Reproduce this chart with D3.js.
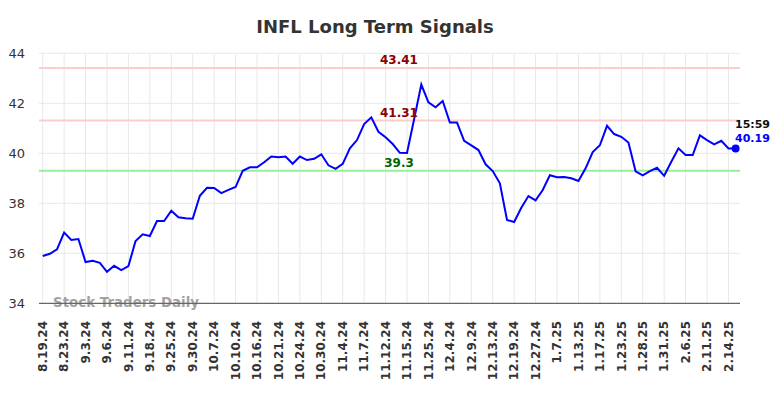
<!DOCTYPE html>
<html><head><meta charset="utf-8">
<script src="https://cdn.jsdelivr.net/npm/d3@7/dist/d3.min.js"></script>
<style>body{margin:0;background:#fff;} svg{display:block;font-family:"DejaVu Sans",sans-serif;}</style>
</head><body><svg id="c" width="784" height="398"></svg>
<script>
const title = "INFL Long Term Signals";
const tickLabels = ["8.19.24","8.23.24","9.3.24","9.6.24","9.11.24","9.18.24","9.25.24","9.30.24","10.7.24","10.10.24","10.16.24","10.21.24","10.24.24","10.30.24","11.4.24","11.7.24","11.12.24","11.15.24","11.25.24","12.4.24","12.9.24","12.13.24","12.19.24","12.27.24","1.7.25","1.13.25","1.17.25","1.23.25","1.28.25","1.31.25","2.6.25","2.11.25","2.14.25"];
const values = [35.89,35.98,36.16,36.83,36.53,36.57,35.65,35.70,35.62,35.26,35.50,35.33,35.49,36.49,36.76,36.69,37.29,37.29,37.70,37.44,37.40,37.38,38.30,38.62,38.61,38.41,38.54,38.65,39.30,39.44,39.44,39.64,39.87,39.84,39.87,39.58,39.87,39.73,39.78,39.96,39.52,39.38,39.58,40.20,40.53,41.17,41.44,40.86,40.64,40.37,40.02,40.01,41.37,42.75,42.04,41.84,42.09,41.23,41.23,40.50,40.32,40.13,39.56,39.29,38.80,37.33,37.25,37.82,38.29,38.12,38.53,39.12,39.04,39.05,39.00,38.89,39.40,40.05,40.32,41.10,40.77,40.66,40.43,39.28,39.12,39.29,39.42,39.10,39.66,40.20,39.93,39.93,40.72,40.53,40.36,40.50,40.19,40.19];
const yTicks = [34,36,38,40,42,44];
const refLevels = [43.41, 41.31, 39.3];
const refColors = ["#ffcccc","#ffcccc","#99ee99"];
const refTextColors = ["#8b0000","#8b0000","#006400"];
const lastTime = "15:59";
const tickEvery = 3;

const svg = d3.select("#c");
const x = d3.scaleLinear().domain([0, values.length-1]).range([42.7, 735.6]);
const y = d3.scaleLinear().domain([34,44]).range([303.3, 53.3]);
const left = 39, right = 740;

// horizontal grid
svg.append("g").selectAll("line").data(yTicks.filter(d=>d!==34)).join("line")
  .attr("x1", left).attr("x2", right).attr("y1", d=>y(d)).attr("y2", d=>y(d))
  .attr("stroke", "#e8e8e8").attr("stroke-width", 1);
// vertical grid
const tickIdx = tickLabels.map((_,i)=>i*tickEvery);
svg.append("g").selectAll("line").data(tickIdx).join("line")
  .attr("x1", d=>x(d)).attr("x2", d=>x(d)).attr("y1", y(44)).attr("y2", y(34))
  .attr("stroke", "#e8e8e8").attr("stroke-width", 1);

// y labels
svg.append("g").selectAll("text").data(yTicks).join("text")
  .attr("x", 25).attr("y", d=>y(d)).attr("dy","0.35em").attr("text-anchor","end")
  .attr("font-size", 13).attr("fill", "#333").text(d=>d);

// x labels
svg.append("g").selectAll("text").data(tickLabels).join("text")
  .attr("transform", (d,i)=>`translate(${x(i*tickEvery)},321) rotate(-90)`)
  .attr("text-anchor","end").attr("dy","0.35em")
  .attr("font-size", 12).attr("font-weight","bold").attr("fill","#333").text(d=>d);

// watermark
svg.append("text").attr("x", 53).attr("y", 307).attr("font-size", 13.4).attr("font-weight","bold")
  .attr("fill", "#999").attr("opacity", 0.9).text("Stock Traders Daily");

// axis line
svg.append("line").attr("x1", left).attr("x2", right).attr("y1", y(34)).attr("y2", y(34))
  .attr("stroke", "#666").attr("stroke-width", 1.2);

// ref lines
svg.append("g").selectAll("line").data(refLevels).join("line")
  .attr("x1", left).attr("x2", right).attr("y1", d=>y(d)).attr("y2", d=>y(d))
  .attr("stroke", (d,i)=>refColors[i]).attr("stroke-width", 2);

// data line
svg.append("path").datum(values)
  .attr("d", d3.line().x((d,i)=>x(i)).y(d=>y(d)))
  .attr("fill","none").attr("stroke","#0000ff").attr("stroke-width",2);

// ref labels
svg.append("g").selectAll("text").data(refLevels).join("text")
  .attr("x", 399).attr("y", d=>y(d)-8).attr("dy","0.35em").attr("text-anchor","middle")
  .attr("font-size", 12).attr("font-weight","bold").attr("fill",(d,i)=>refTextColors[i]).text(d=>d);

// last point
const li = values.length-1;
svg.append("circle").attr("cx", x(li)).attr("cy", y(values[li])).attr("r", 4).attr("fill","#0000ff");
svg.append("text").attr("x", 735).attr("y", 128).attr("font-size", 11).attr("font-weight","bold").attr("fill","#111").text(lastTime);
svg.append("text").attr("x", 735).attr("y", 142).attr("font-size", 11).attr("font-weight","bold").attr("fill","#0000ff").text(values[li].toFixed(2));

// title
svg.append("text").attr("x", 375).attr("y", 33).attr("text-anchor","middle")
  .attr("font-size", 18).attr("font-weight","bold").attr("fill","#333").text(title);
</script></body></html>
